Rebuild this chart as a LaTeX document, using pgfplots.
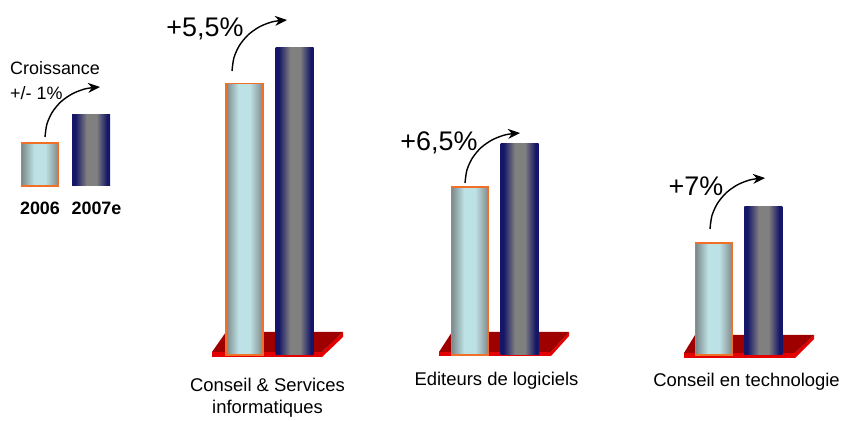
\documentclass[border=0pt]{standalone}
\usepackage{pgfplots}
\pgfplotsset{compat=1.18}
\usepackage{fontspec}
\setmainfont{Liberation Sans}
\usetikzlibrary{arrows.meta}
\definecolor{lightL}{RGB}{124,136,138}
\definecolor{lightM}{RGB}{189,226,229}
\definecolor{lightR}{RGB}{128,136,138}
\definecolor{darkE}{RGB}{22,22,104}
\definecolor{darkM}{RGB}{128,128,128}
\definecolor{orng}{RGB}{240,112,40}
\definecolor{redTop}{RGB}{158,0,0}
\definecolor{redSide}{RGB}{228,0,0}
\pgfdeclarehorizontalshading{lightsh}{100bp}{color(0bp)=(lightL); color(25bp)=(lightL); color(42bp)=(lightM); color(57bp)=(lightM); color(75bp)=(lightR); color(100bp)=(lightR)}
\pgfdeclarehorizontalshading{darksh}{100bp}{color(0bp)=(darkE); color(25bp)=(darkE); color(29bp)=(darkE); color(44bp)=(darkM); color(57bp)=(darkM); color(71bp)=(darkE); color(75bp)=(darkE); color(100bp)=(darkE)}
\pgfplotsset{
  lightbar/.style={ybar, bar width=37, bar shift=0pt, draw=orng, line width=1.3bp,
     shade, shading=lightsh},
  darkbar/.style={ybar, bar width=38, bar shift=0pt, draw=none,
     shade, shading=darksh},
  grow/.style={black, line width=1.4bp, smooth, -{Stealth[length=12bp,width=10bp]}},
}
\begin{document}
\begin{tikzpicture}
\useasboundingbox (0,0) rectangle (842bp,421bp);
% main axis: y = 355 - pixel row
\begin{axis}[at={(0,0)}, anchor=south west, x=1bp, y=1bp,
  xmin=0, xmax=842, ymin=-66, ymax=355, hide axis, clip=false]
% platforms
\addplot[fill=redSide, draw=none] coordinates {(212,3) (322,3) (343,23) (343,18) (322,-2) (212,-2)} -- cycle;
\addplot[fill=redTop, draw=none] coordinates {(226,23) (343,23) (322,3) (212,3)} -- cycle;
\addplot[fill=redSide, draw=none] coordinates {(439,3) (551,3) (569,23) (569,19) (551,-1) (439,-1)} -- cycle;
\addplot[fill=redTop, draw=none] coordinates {(452,23) (569,23) (551,3) (439,3)} -- cycle;
\addplot[fill=redSide, draw=none] coordinates {(684,2) (795,2) (814,20) (814,16) (795,-3) (684,-3)} -- cycle;
\addplot[fill=redTop, draw=none] coordinates {(695,20) (814,20) (795,2) (684,2)} -- cycle;
% bars 2006 (one plot per bar so each gets its own shading)
\addplot[lightbar] coordinates {(244.5,271.5)};
\addplot[lightbar] coordinates {(470,168)};
\addplot[lightbar] coordinates {(714,112)};
% bars 2007e
\addplot[darkbar] coordinates {(294.7,307.5)};
\addplot[darkbar] coordinates {(519.5,211.5)};
\addplot[darkbar] coordinates {(763.3,148.5)};
% growth arrows
\addplot[grow] coordinates {(232,284) (233.9,297.2) (239.4,309.5) (248.1,320.1) (259.5,328.2) (272.8,333.3) (287,335)};
\addplot[grow] coordinates {(465,172) (466.9,184.9) (472.4,197) (481.1,207.4) (492.5,215.3) (505.8,220.3) (520,222)};
\addplot[grow] coordinates {(710,126) (711.9,139.2) (717.4,151.5) (726.1,162.1) (737.5,170.2) (750.8,175.3) (765,177)};
% labels
\node[anchor=base, inner sep=0, font=\fontsize{27}{30}\selectfont] at (axis cs:205,319) {+5,5\%};
\node[anchor=base, inner sep=0, font=\fontsize{27}{30}\selectfont] at (axis cs:439,205) {+6,5\%};
\node[anchor=base, inner sep=0, font=\fontsize{27}{30}\selectfont] at (axis cs:696,160) {+7\%};
\node[anchor=base, inner sep=0, font=\fontsize{18.5}{22}\selectfont] at (axis cs:267.5,-36) {Conseil \& Services};
\node[anchor=base, inner sep=0, font=\fontsize{18.5}{22}\selectfont] at (axis cs:267.5,-58) {informatiques};
\node[anchor=base, inner sep=0, font=\fontsize{18.5}{22}\selectfont] at (axis cs:496.5,-30) {Editeurs de logiciels};
\node[anchor=base, inner sep=0, font=\fontsize{18.5}{22}\selectfont] at (axis cs:746.5,-31) {Conseil en technologie};
\end{axis}
% legend axis: y = 186 - pixel row
\begin{axis}[at={(0,0)}, anchor=south west, x=1bp, y=1bp,
  xmin=0, xmax=842, ymin=-235, ymax=186, hide axis, clip=false]
\addplot[lightbar] coordinates {(40,43)};
\addplot[darkbar] coordinates {(91.2,71)};
\addplot[grow] coordinates {(45,49) (46.9,61.9) (52.4,74) (61.1,84.4) (72.5,92.3) (85.8,97.3) (100,99)};
\node[anchor=base west, inner sep=0, font=\fontsize{18}{21}\selectfont] at (axis cs:10,111) {Croissance};
\node[anchor=base west, inner sep=0, font=\fontsize{18}{21}\selectfont] at (axis cs:10,86) {+/- 1\%};
\node[anchor=base, inner sep=0, font=\fontsize{18}{21}\selectfont\bfseries] at (axis cs:40,-29) {2006};
\node[anchor=base, inner sep=0, font=\fontsize{18}{21}\selectfont\bfseries] at (axis cs:96.5,-29) {2007e};
\end{axis}
\end{tikzpicture}
\end{document}
